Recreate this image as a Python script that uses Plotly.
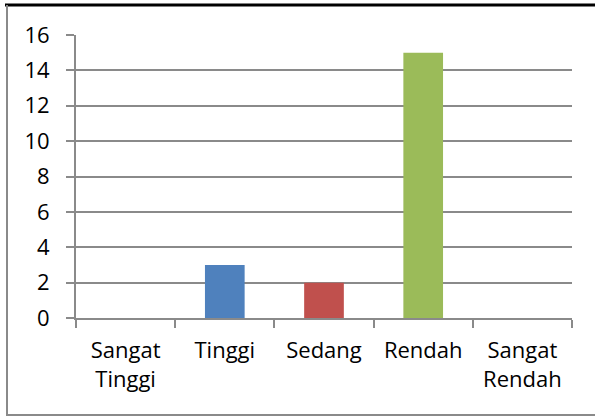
import plotly.graph_objects as go

categories = ["Sangat<br>Tinggi", "Tinggi", "Sedang", "Rendah", "Sangat<br>Rendah"]
values = [0, 3, 2, 15, 0]
colors = ["#4F81BD", "#4F81BD", "#C0504D", "#9BBB59", "#9BBB59"]
y_ticks = [0, 2, 4, 6, 8, 10, 12, 14, 16]

W, H = 595, 417
L, R, T, B = 76, 23, 35, 99
pw, ph = W - L - R, H - T - B

def px(x):
    return (x - L) / pw

def py(y):
    return (H - B - y) / ph

fig = go.Figure(go.Bar(x=categories, y=values, marker_color=colors, marker_line_width=0,
                       hoverinfo="skip"))

grid = "#8a8a8a"
fig.update_layout(
    width=W, height=H,
    margin=dict(l=L, r=R, t=T, b=B, pad=0),
    paper_bgcolor="white", plot_bgcolor="white",
    bargap=0.6,
    showlegend=False,
    font=dict(family="Open Sans", size=22, color="black"),
    xaxis=dict(
        type="category", tickson="boundaries", ticks="outside", ticklen=8,
        tickcolor=grid, tickwidth=2, showline=True, linecolor=grid, linewidth=2,
        showgrid=False, ticklabelstandoff=12, fixedrange=True,
    ),
    yaxis=dict(
        range=[0, 16], tickvals=y_ticks, ticks="outside", ticklen=8,
        tickcolor=grid, tickwidth=2, showline=True, linecolor=grid, linewidth=2,
        showgrid=True, gridcolor=grid, gridwidth=2, zeroline=False,
        ticklabelstandoff=12, fixedrange=True,
    ),
    shapes=[
        dict(type="line", xref="paper", yref="paper", x0=px(5), x1=px(595), y0=py(5), y1=py(5),
             line=dict(color="black", width=3)),
        dict(type="line", xref="paper", yref="paper", x0=px(7), x1=px(7), y0=py(5), y1=py(416),
             line=dict(color="#8a8a8a", width=2)),
        dict(type="line", xref="paper", yref="paper", x0=px(7), x1=px(595), y0=py(415), y1=py(415),
             line=dict(color="#8a8a8a", width=2)),
    ],
)

fig.write_html(
    "out.html",
    config={"displayModeBar": False},
    post_script="document.body.style.margin='0';document.body.style.overflow='hidden';",
)
